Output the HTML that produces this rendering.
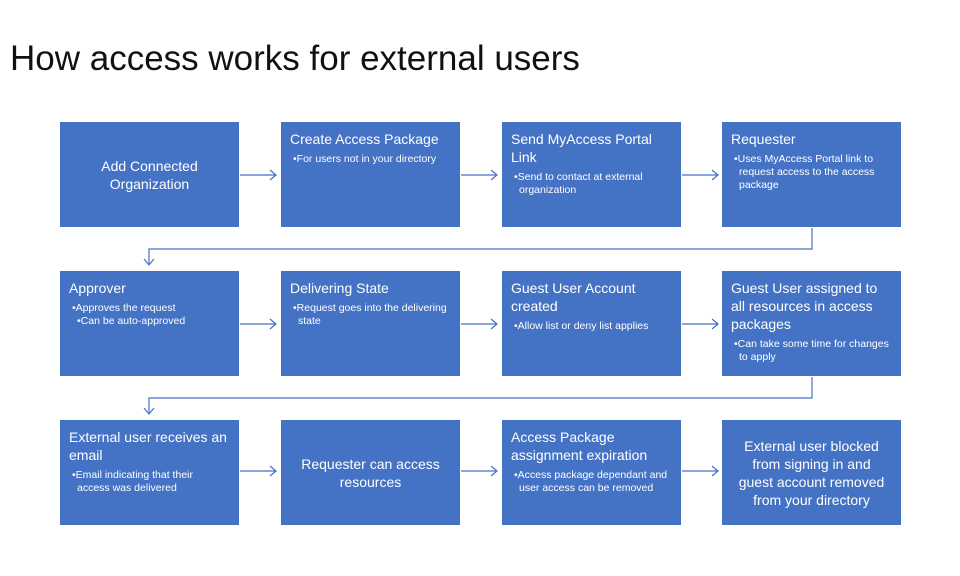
<!DOCTYPE html>
<html><head><meta charset="utf-8"><style>
body{margin:0;width:960px;height:576px;background:#fff;position:relative;overflow:hidden;font-family:"Liberation Sans",sans-serif}
h1{position:absolute;left:10px;top:39px;margin:0;font-weight:normal;font-size:35px;color:#111;letter-spacing:0px}
.b{position:absolute;width:179px;height:105px;background:#4472c4;color:#fff;box-sizing:border-box;padding:8px 12px 0 9px}
.h{font-size:14px;line-height:18px}
.u{font-size:10.5px;line-height:13px;margin-top:5px;padding-left:8px;text-indent:-5px}
.c{display:flex;align-items:center;justify-content:center;text-align:center;padding:0 16px;font-size:14px;line-height:18px}
svg{position:absolute;left:0;top:0}
</style></head><body>
<h1>How access works for external users</h1>
<svg width="960" height="576" fill="none" stroke="#4472c4" stroke-width="1.2">
<g id="a"><path d="M240 175H276M270 170L276 175L270 180"/></g>
<use href="#a" x="221"/><use href="#a" x="442"/>
<use href="#a" y="149"/><use href="#a" x="221" y="149"/><use href="#a" x="442" y="149"/>
<use href="#a" y="296"/><use href="#a" x="221" y="296"/><use href="#a" x="442" y="296"/>
<path d="M812 228V249H149V265M144 259L149 265L154 259"/>
<path d="M812 377V398H149V414M144 408L149 414L154 408"/>
</svg>
<div class="b c" style="left:60px;top:122px">Add Connected Organization</div>
<div class="b" style="left:281px;top:122px"><div class="h">Create Access Package</div><div class="u">•For users not in your directory</div></div>
<div class="b" style="left:502px;top:122px"><div class="h">Send MyAccess Portal Link</div><div class="u">•Send to contact at external organization</div></div>
<div class="b" style="left:722px;top:122px"><div class="h">Requester</div><div class="u">•Uses MyAccess Portal link to request access to the access package</div></div>
<div class="b" style="left:60px;top:271px"><div class="h">Approver</div><div class="u">•Approves the request<br>•Can be auto-approved</div></div>
<div class="b" style="left:281px;top:271px"><div class="h">Delivering State</div><div class="u">•Request goes into the delivering state</div></div>
<div class="b" style="left:502px;top:271px"><div class="h">Guest User Account created</div><div class="u">•Allow list or deny list applies</div></div>
<div class="b" style="left:722px;top:271px"><div class="h">Guest User assigned to all resources in access packages</div><div class="u">•Can take some time for changes to apply</div></div>
<div class="b" style="left:60px;top:420px"><div class="h">External user receives an email</div><div class="u">•Email indicating that their access was delivered</div></div>
<div class="b c" style="left:281px;top:420px">Requester can access resources</div>
<div class="b" style="left:502px;top:420px"><div class="h">Access Package assignment expiration</div><div class="u">•Access package dependant and user access can be removed</div></div>
<div class="b c" style="left:722px;top:420px">External user blocked from signing in and guest account removed from your directory</div>
</body></html>
